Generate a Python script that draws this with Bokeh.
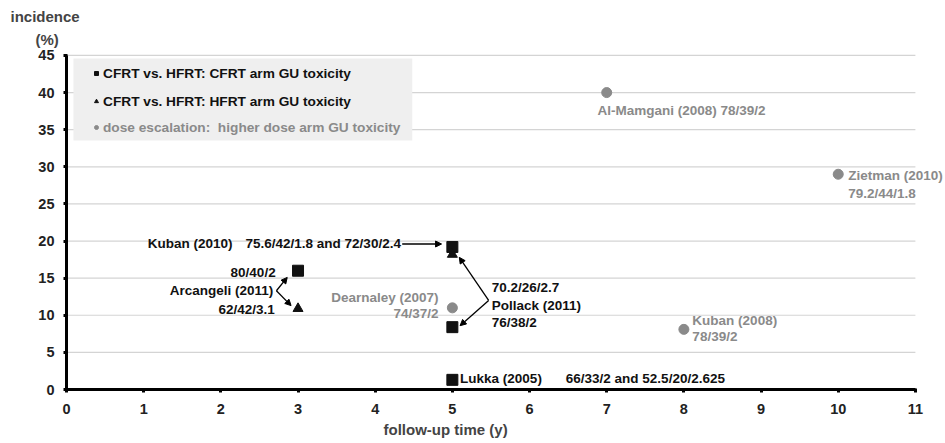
from bokeh.plotting import figure
from bokeh.models import (Legend, LegendItem, Label, Arrow, NormalHead, FixedTicker,
                          BoxAnnotation, Title)
from bokeh.embed import file_html
from bokeh.resources import INLINE

# ---- data ----
cfrt_x = [3, 5, 5, 5]
cfrt_y = [16.0, 19.2, 8.4, 1.3]
hfrt_x = [3, 5]
hfrt_y = [10.9, 18.2]
esc_x = [7, 10, 5, 8]
esc_y = [40.0, 29.0, 11.0, 8.1]
x_ticks = list(range(0, 12))
y_ticks = list(range(0, 50, 5))

FONT = "Liberation Sans"
BLACK = "#111111"
GRAY = "#8a8a8a"
ANN = "13.5px"

p = figure(width=945, height=443, x_range=(0, 11.39), y_range=(0, 45.4),
           output_backend="svg", toolbar_location=None,
           min_border_left=66, min_border_right=0, min_border_top=52, min_border_bottom=54)
p.title.text = ""
p.outline_line_color = None
p.background_fill_color = "white"

# axes
for ax in (p.xaxis[0], p.yaxis[0]):
    ax.axis_line_width = 3
    ax.axis_line_color = "black"
    ax.major_tick_line_color = "black"
    ax.major_tick_line_width = 3
    ax.major_tick_in = 1
    ax.major_tick_out = 3
    ax.minor_tick_line_color = None
    ax.major_label_text_font = FONT
    ax.major_label_text_font_style = "bold"
    ax.major_label_text_font_size = "14.5px"
    ax.major_label_text_color = "#222222"
p.xaxis.ticker = FixedTicker(ticks=x_ticks)
p.yaxis.ticker = FixedTicker(ticks=y_ticks)
p.xaxis.bounds = (x_ticks[0], x_ticks[-1])
p.yaxis.bounds = (y_ticks[0], y_ticks[-1])
p.xaxis.major_label_standoff = 11
p.yaxis.major_label_standoff = 9
p.xgrid.grid_line_color = None
p.ygrid.grid_line_color = None

# horizontal grid lines ending at the last x tick
p.segment(x0=x_ticks[0], x1=x_ticks[-1], y0=y_ticks[1:], y1=y_ticks[1:],
          line_color="#d4d4d4", line_width=1.2, level="underlay")

# legend background box
p.add_layout(BoxAnnotation(left=0.09, right=4.48, bottom=33.55, top=44.6,
                           fill_color="#efefef", fill_alpha=1, line_color=None,
                           level="underlay"))

# markers
r_sq = p.scatter(cfrt_x, cfrt_y, marker="square", size=11, color=BLACK)
r_tr = p.scatter(hfrt_x, hfrt_y, marker="triangle", size=10, color=BLACK)
r_ci = p.scatter(esc_x, esc_y, marker="circle", size=10, color=GRAY)

# legends
common = dict(background_fill_alpha=0, border_line_alpha=0, padding=0, margin=0,
              spacing=8, label_height=20, glyph_width=10, glyph_height=10,
              label_standoff=2, label_text_font=FONT, label_text_font_style="bold",
              label_text_font_size="13.7px")
leg1 = Legend(items=[LegendItem(label="CFRT vs. HFRT: CFRT arm GU toxicity", renderers=[r_sq]),
                     LegendItem(label="CFRT vs. HFRT: HFRT arm GU toxicity", renderers=[r_tr])],
              location=(25, 278), label_text_color=BLACK, **common)
leg2 = Legend(items=[LegendItem(label="dose escalation:  higher dose arm GU toxicity",
                                renderers=[r_ci])],
              location=(25, 252), label_text_color=GRAY, **common)
p.add_layout(leg1, "center")
p.add_layout(leg2, "center")

# axis titles (placed as titles so they can sit outside the plotting frame)
p.add_layout(Title(text="(%)", align="left", offset=-31, standoff=9,
                   text_font=FONT, text_font_style="bold", text_font_size="15px"), "above")
p.add_layout(Title(text="incidence", align="left", offset=-56, standoff=0,
                   text_font=FONT, text_font_style="bold", text_font_size="15px"), "above")
p.add_layout(Title(text="follow-up  time (y)", align="left", offset=317, standoff=5,
                   text_font=FONT, text_font_style="bold", text_font_size="15px"), "below")


def lab(x, y, t, color=BLACK, align="left"):
    p.add_layout(Label(x=x, y=y, text=t, text_font=FONT, text_font_style="bold",
                       text_font_size=ANN, text_color=color, text_align=align,
                       text_baseline="middle"))


# annotations
lab(2.15, 19.67, "Kuban (2010)", align="right")
lab(2.32, 19.67, "75.6/42/1.8 and 72/30/2.4")
lab(2.71, 15.76, "80/40/2", align="right")
lab(2.68, 13.34, "Arcangeli (2011)", align="right")
lab(2.70, 10.78, "62/42/3.1", align="right")
lab(4.82, 12.4, "Dearnaley (2007)", color=GRAY, align="right")
lab(4.82, 10.24, "74/37/2", color=GRAY, align="right")
lab(5.51, 13.74, "70.2/26/2.7")
lab(5.51, 11.32, "Pollack (2011)")
lab(5.51, 9.03, "76/38/2")
lab(5.1, 1.48, "Lukka (2005)")
lab(6.47, 1.48, "66/33/2 and 52.5/20/2.625")
lab(6.88, 37.6, "Al-Mamgani (2008) 78/39/2", color=GRAY)
lab(10.13, 28.83, "Zietman (2010)", color=GRAY)
lab(10.13, 26.4, "79.2/44/1.8", color=GRAY)
lab(8.11, 9.3, "Kuban (2008)", color=GRAY)
lab(8.11, 7.14, "78/39/2", color=GRAY)


def arrow(x0, y0, x1, y1):
    p.add_layout(Arrow(end=NormalHead(size=6, fill_color="black", line_color="black"),
                       x_start=x0, y_start=y0, x_end=x1, y_end=y1,
                       line_color="black", line_width=1.3))


arrow(4.35, 19.6, 4.86, 19.6)
arrow(2.72, 13.3, 2.86, 15.1)
arrow(2.72, 13.3, 2.91, 11.3)
arrow(5.47, 12.0, 5.09, 17.8)
arrow(5.47, 12.0, 5.1, 8.6)

open("out.html", "w").write(file_html(p, INLINE))
